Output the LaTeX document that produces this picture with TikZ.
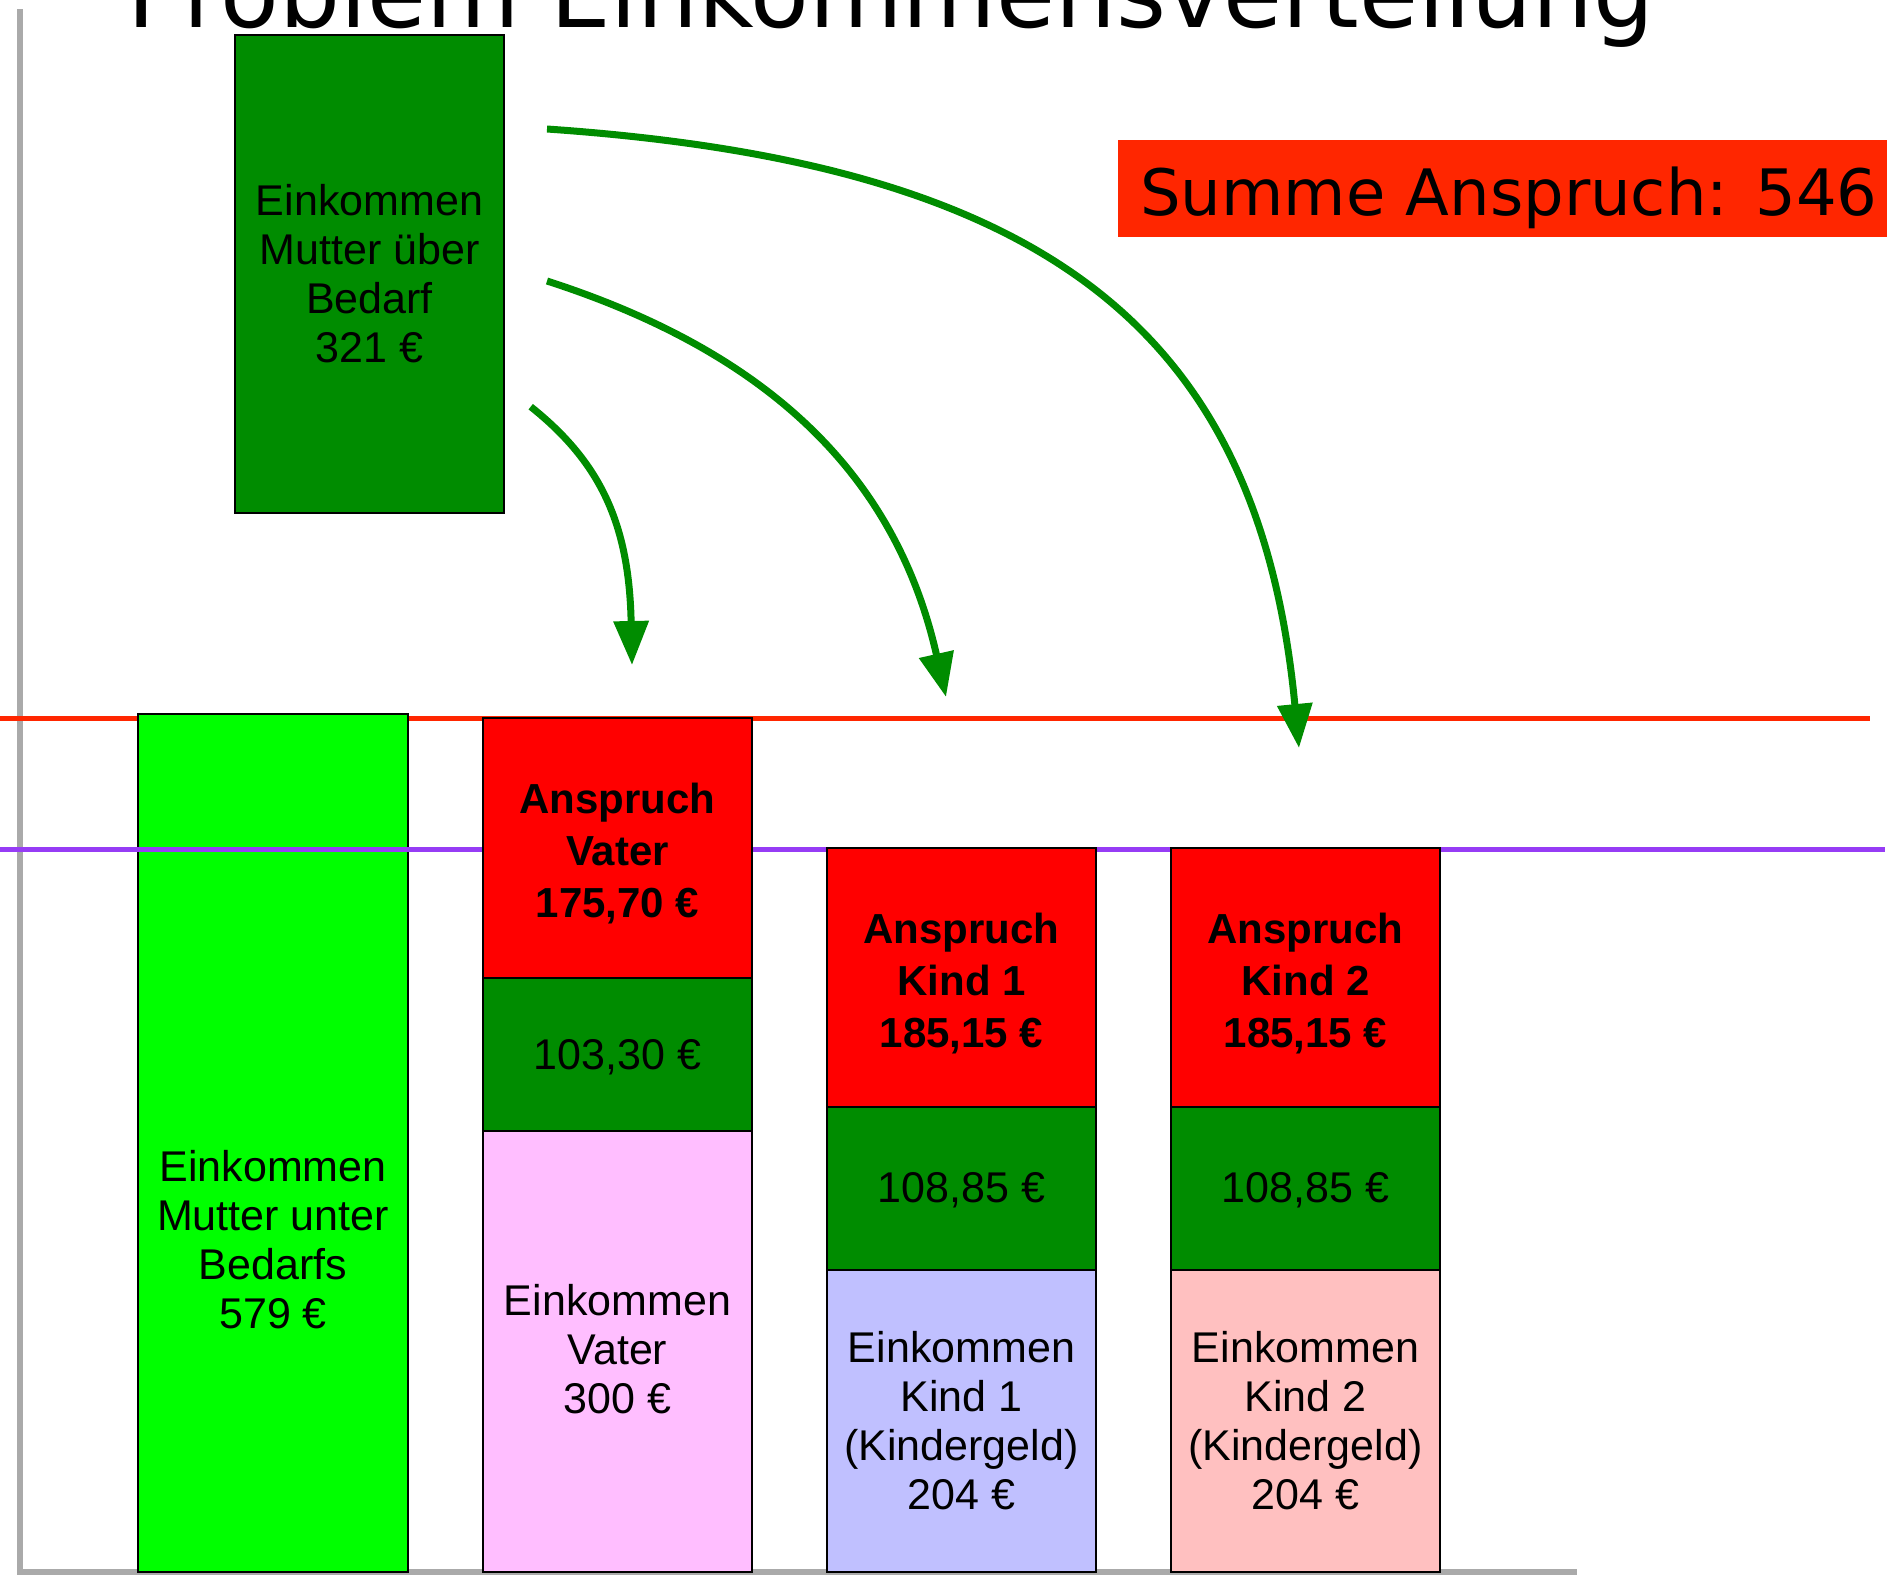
\documentclass[tikz,border=0pt]{standalone}
\usepackage{fontspec}
\setmainfont{Liberation Sans}
\newfontfamily\dvsans{DejaVu Sans}
\usetikzlibrary{arrows.meta}
\definecolor{dkgreen}{RGB}{0,140,0}
\definecolor{ltgreen}{RGB}{0,255,0}
\definecolor{barred}{RGB}{255,0,0}
\definecolor{barpink}{RGB}{255,190,255}
\definecolor{barlav}{RGB}{192,192,255}
\definecolor{barsalmon}{RGB}{255,192,192}
\definecolor{sumred}{RGB}{255,38,0}
\definecolor{linepurple}{RGB}{150,60,245}
\definecolor{axisgray}{RGB}{170,170,170}
\begin{document}
\begin{tikzpicture}[x=1pt,y=-1pt,
  box/.style={draw=black, line width=2pt, inner sep=0pt, minimum width=269pt,
    align=center, font=\fontsize{43pt}{49pt}\selectfont},
  boldtxt/.style={inner sep=0pt, align=center, font=\fontsize{42pt}{52pt}\selectfont\bfseries},
  plaintxt/.style={inner sep=0pt, align=center, font=\fontsize{43pt}{49pt}\selectfont},
  flow/.style={draw=dkgreen, line width=7pt, -{Triangle[width=34pt,length=44pt]}, fill=none},
]
\clip (0,0) rectangle (1887,1577);
% axes
\draw[axisgray, line width=6pt] (20,9) -- (20,1572) -- (1577,1572);
% red level line
\draw[sumred, line width=5pt] (0,718) -- (1870,718);
% bar 1
\node[box, fill=ltgreen, minimum width=270pt, minimum height=858pt] (mutter) at (273,1143) {};
\node[plaintxt] (muttertxt) at (273,1240) {Einkommen\\Mutter unter\\Bedarfs\\579 €};
% purple level line
\draw[linepurple, line width=5pt] (0,849) -- (1885,849);
% top box
\node[box, fill=dkgreen, minimum height=478pt] (ueber) at (369.5,274) {Einkommen\\Mutter über\\Bedarf\\321 €};
% bar 2
\node[box, fill=barred, minimum height=260pt] (vaterA) at (617.5,848) {};
\node[boldtxt] (vaterAtxt) at (617.5,854) {Anspruch\\Vater\\175,70 €};
\node[box, fill=dkgreen, minimum height=153pt] (vaterB) at (617.5,1054.5) {};
\node[plaintxt] (vaterBtxt) at (617.5,1057.5) {103,30 €};
\node[box, fill=barpink, minimum height=441pt] (vaterE) at (617.5,1351.5) {};
\node[plaintxt] (vaterEtxt) at (617.5,1349.5) {Einkommen\\Vater\\300 €};
% bar 3
\node[box, fill=barred, minimum height=259pt] (kindeinsA) at (961.5,977.5) {};
\node[boldtxt] (kindeinsAtxt) at (961.5,983.5) {Anspruch\\Kind 1\\185,15 €};
\node[box, fill=dkgreen, minimum height=163pt] (kindeinsB) at (961.5,1188.5) {};
\node[plaintxt] (kindeinsBtxt) at (961.5,1190.5) {108,85 €};
\node[box, fill=barlav, minimum height=302pt] (kindeinsE) at (961.5,1421) {Einkommen\\Kind 1\\(Kindergeld)\\204 €};
% bar 4
\node[box, fill=barred, minimum height=259pt] (kindzweiA) at (1305.5,977.5) {};
\node[boldtxt] (kindzweiAtxt) at (1305.5,983.5) {Anspruch\\Kind 2\\185,15 €};
\node[box, fill=dkgreen, minimum height=163pt] (kindzweiB) at (1305.5,1188.5) {};
\node[plaintxt] (kindzweiBtxt) at (1305.5,1190.5) {108,85 €};
\node[box, fill=barsalmon, minimum height=302pt] (kindzweiE) at (1305.5,1421) {Einkommen\\Kind 2\\(Kindergeld)\\204 €};
% arrows
\coordinate (s1) at (530.7,406.7);
\coordinate (t1) at (632,665);
\coordinate (s2) at (547,281);
\coordinate (t2) at (946,697);
\coordinate (s3) at (547,129);
\coordinate (t3) at (1299,748);
\draw[flow] (s1) .. controls (601.2,462.8) and (629.2,525) .. (t1);
\draw[flow] (s2) .. controls (766,351.6) and (895.4,472.75) .. (t2);
\draw[flow] (s3) .. controls (1047,163.5) and (1259,330) .. (t3);
% sum box
\node[fill=sumred, anchor=north west, minimum width=800pt, minimum height=97pt, inner sep=0pt] (summe) at (1118,140) {};
\node[anchor=base west, inner sep=0pt, font=\dvsans\fontsize{64pt}{70pt}\selectfont] (summetxt) at (1140,215) {Summe Anspruch: 546};
% title
\node[anchor=base west, inner sep=0pt, font=\dvsans\fontsize{96pt}{100pt}\selectfont] (title) at (127,27) {Problem Einkommensverteilung};
\end{tikzpicture}
\end{document}
